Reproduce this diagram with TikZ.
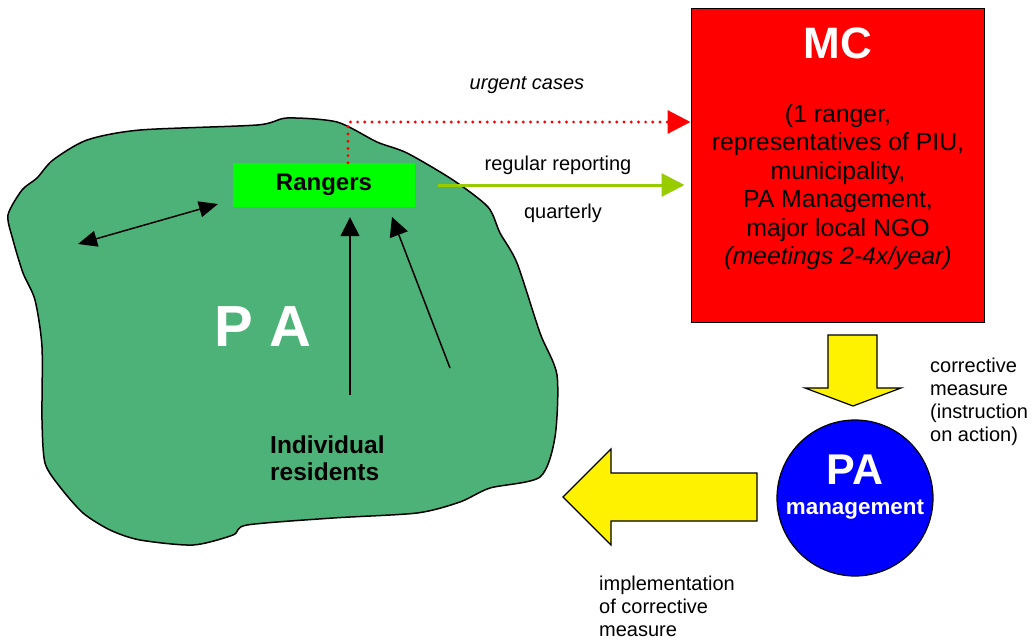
\documentclass[tikz,border=0pt]{standalone}
\usepackage{fontspec}
\setmainfont{Liberation Sans}
\usetikzlibrary{arrows.meta, positioning, calc}
\definecolor{pagreen}{RGB}{76,178,119}
\definecolor{rangergreen}{RGB}{0,255,0}
\definecolor{reportgreen}{RGB}{153,204,0}

\begin{document}
\begin{tikzpicture}[
    x=1pt, y=-1pt,
    lbl/.style={font=\fontsize{20}{23}\selectfont, align=left, inner sep=0pt},
    arrow/.style={-{Triangle[length=19pt, width=19pt]}, line width=1.5pt},
    twoway/.style={{Triangle[length=19pt, width=16pt]}-{Triangle[length=19pt, width=16pt]}, line width=1.5pt},
    urgent/.style={red, line width=3.2pt, line cap=round, dash pattern=on 0pt off 7.2pt, -{Triangle[length=23pt, width=23pt, line cap=butt]}},
    report/.style={reportgreen, line width=3pt, -{Triangle[length=23pt, width=23pt]}},
    blockarrow/.style={draw, fill=yellow, line width=1.2pt, line join=miter},
]
\useasboundingbox (0,0) rectangle (1034,643);

% protected area
\draw[fill=pagreen, line width=1.5pt] plot[smooth cycle, tension=0.45] coordinates {
    (8,215) (22,190) (37,178) (53,160) (87,140) (140,130) (257,125) (287,118)
    (337,122) (377,142) (407,153) (453,180) (488,207) (500,233) (517,263)
    (540,333) (557,375) (555,437) (540,477) (490,488) (460,502) (417,513)
    (333,518) (247,525) (233,535) (193,545) (140,540) (110,530) (83,513)
    (60,487) (45,463) (42,420) (42,347) (35,300) (23,273) (13,240)};

\node[font=\fontsize{58}{60}\selectfont\bfseries, text=white] (pa) at (263,327) {P A};

\node[rectangle, fill=rangergreen, minimum width=182pt, minimum height=44pt,
      font=\fontsize{24}{26}\selectfont\bfseries] (rangers) at (324,185) {Rangers};

\node[font=\fontsize{24.5}{27}\selectfont\bfseries, align=left, inner sep=0pt, anchor=west] (residents) at (270,458) {Individual\\residents};

\coordinate (dl) at (78,244);
\coordinate (dr) at (218,204);
\coordinate (r1) at (350,395);
\coordinate (r2) at (450,368);
\coordinate (r2end) at (392,217);

\draw[twoway] (dl) -- (dr);
\draw[arrow, shorten >=10pt] (r1) -- (r1 |- rangers.south);
\draw[arrow] (r2) -- (r2end);

% management committee
\node[rectangle, draw, fill=red, line width=1pt, minimum width=293pt, minimum height=314pt] (mc) at (837.5,165) {};
\node[font=\fontsize{44}{46}\selectfont\bfseries, text=white] (mctitle) at (838,43) {MC};
\node[font=\fontsize{24.8}{28.5}\selectfont, align=center] (mcbody) at (838,187) {(1 ranger,\\representatives of PIU,\\municipality,\\PA Management,\\major local NGO\\\textit{(meetings 2-4x/year)}};

% reporting lines
\coordinate (uc) at (348,122);
\draw[urgent] (rangers.north -| uc) -- (uc) -- (uc -| mc.west);
\draw[report, shorten <=23pt, shorten >=6pt] (rangers.east) -- (rangers.east -| mc.west);

\node[lbl, font=\fontsize{20}{23}\selectfont\itshape] (urgentlbl) at (527,85) {urgent cases};
\node[lbl] (regularlbl) at (558,165) {regular reporting};
\node[lbl] (quarterlbl) at (563,213) {quarterly};

% PA management
\node[circle, draw, fill=blue, line width=1.2pt, minimum size=156pt] (pam) at (855,498) {};
\node[font=\fontsize{43}{45}\selectfont\bfseries, text=white] (pamtitle) at (855,470) {PA};
\node[font=\fontsize{22.4}{24}\selectfont\bfseries, text=white] (pamsub) at (855,510) {management};

% corrective measures
\draw[blockarrow] (828,335) -- (877,335) -- (877,388) -- (901,388) -- (853,406) -- (805,388) -- (828,388) -- cycle;
\draw[blockarrow] (757,473) -- (611,473) -- (611,449) -- (563,497) -- (611,545) -- (611,521) -- (757,521) -- cycle;

\node[lbl, anchor=west] (corrlbl) at (930,402) {corrective\\measure\\(instruction\\on action)};
\node[lbl, anchor=west] (impllbl) at (599,606) {implementation\\of corrective\\measure};

\end{tikzpicture}
\end{document}
